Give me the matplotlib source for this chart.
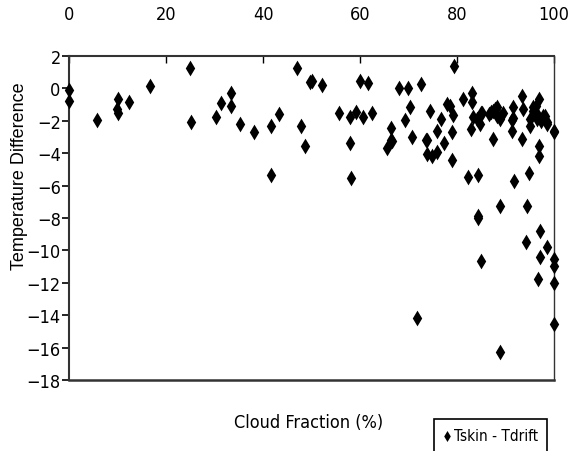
import matplotlib.pyplot as plt
import matplotlib.font_manager as fm

# cloud fraction (%) and Tskin - Tdrift
cloud = [0, 0, 5.7, 10.1, 9.8, 10.1, 12.4, 16.7, 24.9, 25.2,
         30.3, 31.4, 33.5, 33.5, 35.3, 38.2, 41.7, 41.7, 43.4, 47.0,
         47.8, 48.7, 49.7, 50.2, 52.2, 60.0, 61.6, 68.0, 69.8, 72.5,
         55.7, 57.9, 59.2, 60.7, 62.5, 57.9, 58.1, 66.4, 66.4, 65.5,
         69.3, 70.4, 70.7, 74.4, 73.7, 73.9, 74.8, 75.9, 75.8, 76.6,
         77.3, 77.9, 78.6, 79.1, 78.9, 78.9, 81.3, 83.0, 83.0, 83.2,
         82.8, 84.1, 85.1, 84.7, 87.5, 88.2, 88.9, 87.5, 82.3, 84.4,
         93.3, 91.6, 91.4, 91.4, 93.7, 93.3, 91.8, 94.8, 96.9, 95.7,
         96.4, 95.1, 97.8, 98.5, 95.1, 96.9, 96.9, 100, 88.9, 94.4,
         84.4, 84.4, 97.1, 94.2, 98.5, 97.1, 100, 100, 84.9, 96.6,
         100, 71.7, 100, 88.9, 79.4, 84.9, 87.1, 88.2, 88.9, 91.6,
         95.7, 96.4, 98.1, 98.5, 99.9, 66.5, 73.9, 87.8, 86.5, 96.2,
         97.3, 89.5]
tdiff = [-0.1, -0.8, -1.95, -0.65, -1.27, -1.52, -0.82, 0.13, 1.26, -2.06,
         -1.75, -0.9, -0.3, -1.07, -2.22, -2.67, -2.34, -5.33, -1.6, 1.26,
         -2.34, -3.54, 0.38, 0.48, 0.23, 0.44, 0.31, 0.0, 0.0, 0.27,
         -1.52, -1.79, -1.48, -1.79, -1.52, -3.38, -5.55, -2.44, -3.16, -3.68,
         -1.95, -1.17, -3.02, -1.38, -3.16, -4.05, -4.15, -3.94, -2.61, -1.89,
         -3.38, -0.96, -1.07, -1.64, -2.67, -4.4, -0.63, -0.26, -0.86, -1.79,
         -2.5, -1.89, -1.52, -2.2, -1.38, -1.68, -1.89, -3.12, -5.49, -5.35,
         -0.45, -1.17, -1.93, -2.61, -1.27, -3.12, -5.69, -5.22, -0.65, -1.38,
         -1.58, -1.89, -1.68, -2.09, -2.3, -3.54, -4.19, -2.67, -7.24, -7.28,
         -7.86, -8.02, -8.78, -9.46, -9.81, -10.39, -10.53, -10.95, -10.63, -11.77,
         -12.0, -14.19, -14.54, -16.29, 1.4, -1.54, -1.48, -1.17, -1.75, -1.8,
         -1.17, -1.9, -1.68, -2.2, -2.6, -3.22, -3.2, -1.3, -1.6, -1.1,
         -2.0, -1.5]
series_name = "Tskin - Tdrift"
xticks = [0, 20, 40, 60, 80, 100]
yticks = list(range(-18, 3, 2))

# the original uses a narrow sans; take a condensed face if one is installed
narrow_files = [f.fname for f in fm.fontManager.ttflist
                if ("Narrow" in f.fname or "Condensed" in f.fname)
                and not any(k in f.fname for k in ("Bold", "Oblique", "Italic", "Mono", "Serif"))]
if narrow_files:
    nfont = lambda size: fm.FontProperties(fname=sorted(narrow_files)[0], size=size)
else:
    nfont = lambda size: fm.FontProperties(family=["Liberation Sans", "DejaVu Sans"], size=size - 1.5)

fig = plt.figure(figsize=(5.68, 4.52), dpi=100)
ax = fig.add_axes([69 / 568, 1 - 381 / 452, 485 / 568, 324 / 452])

ax.scatter(cloud, tdiff, marker="d", s=64, color="black", linewidths=0,
           label=series_name, clip_on=False, zorder=3)

ax.set_xlim(0, 100)
ax.set_ylim(-18, 2)
ax.set_xticks(xticks)
ax.set_yticks(yticks)
ax.xaxis.tick_top()
ax.tick_params(axis="x", direction="in", length=5, width=1, pad=24)
ax.tick_params(axis="y", direction="out", length=5, width=1.2, pad=1)
for lab in ax.get_xticklabels() + ax.get_yticklabels():
    lab.set_fontproperties(nfont(13))
for s in ax.spines.values():
    s.set_color("#333333")
ax.spines["left"].set_linewidth(1.5)
ax.spines["bottom"].set_linewidth(1.8)
ax.spines["top"].set_linewidth(1.5)
ax.spines["right"].set_linewidth(1.0)

fig.text(20 / 568, 1 - 176 / 452, "Temperature Difference", rotation=90,
         ha="center", va="center", fontsize=13, family=["Liberation Sans", "DejaVu Sans"])
fig.text(309 / 568, 1 - 423 / 452, "Cloud Fraction (%)", ha="center", va="center",
         fontproperties=nfont(13))

leg = fig.legend(loc="upper left", bbox_to_anchor=(434 / 568, 1 - 420 / 452),
                 prop=nfont(11), markerscale=0.7, handlelength=0.5, handletextpad=0.2,
                 borderpad=0.6, borderaxespad=0, fancybox=False, framealpha=1,
                 edgecolor="black")
leg.get_frame().set_linewidth(1.2)

fig.savefig("out.png", dpi=100)
